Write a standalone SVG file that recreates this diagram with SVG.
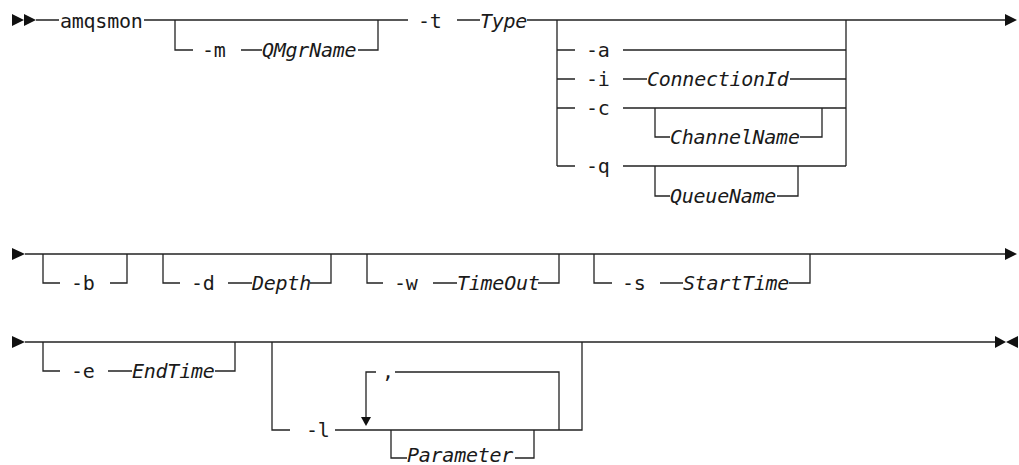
<svg xmlns="http://www.w3.org/2000/svg" width="1019" height="465" viewBox="0 0 1019 465">
<style>
.l{fill:none;stroke:#222;stroke-width:1.3}
.a{fill:#111}
text{font-family:"DejaVu Sans Mono","Liberation Mono",monospace;font-size:20px;letter-spacing:-0.25px;fill:#1a1a1a}
.i{font-style:italic}
</style>
<rect width="1019" height="465" fill="#fff"/>
<g id="connectors">
<!-- row 1 -->
<path class="l" d="M36,20H59M144,20H408M457,20H480M527,20H1005"/>
<path class="l" d="M175,20V50H193M241,50H262M358,50H378V20"/>
<path class="l" d="M557,20V166M846,20V166"/>
<path class="l" d="M557,50H575M623,50H846"/>
<path class="l" d="M557,79H575M623,79H647M790,79H846"/>
<path class="l" d="M557,108H575M623,108H846M655,108V137H670M800,137H822V108"/>
<path class="l" d="M557,166H575M623,166H846M655,166V196H670M777,196H798V166"/>
<polygon class="a" points="12,14 24,20 12,26"/>
<polygon class="a" points="24,14 36,20 24,26"/>
<polygon class="a" points="1005,14 1017,20 1005,26"/>
<!-- row 2 -->
<path class="l" d="M25,254H1005"/>
<path class="l" d="M43,254V283H60M110,283H127V254"/>
<path class="l" d="M163,254V283H180M228,283H252M310,283H331V254"/>
<path class="l" d="M367,254V283H383M433,283H457M538,283H559V254"/>
<path class="l" d="M594,254V283H612M660,283H683M789,283H810V254"/>
<polygon class="a" points="12,248 25,254 12,260"/>
<polygon class="a" points="1005,248 1017,254 1005,260"/>
<!-- row 3 -->
<path class="l" d="M25,342H995"/>
<path class="l" d="M43,342V371H60M108,371H132M215,371H235V342"/>
<path class="l" d="M272,342V430H290M335,430H582V342"/>
<path class="l" d="M366,418V372H376M395,372H559V430"/>
<path class="l" d="M391,430V458H407M515,458H534V430"/>
<polygon class="a" points="12,336 25,342 12,348"/>
<polygon class="a" points="361,417 371,417 366,426"/>
<polygon class="a" points="995,336 1006,342 995,348"/>
<polygon class="a" points="1018,336 1006,342 1018,348"/>
</g>
<g id="amqsmon"><text x="60" y="27.5">amqsmon</text></g>
<g id="opt-m"><text x="202" y="57">-m</text><text class="i" x="262" y="57">QMgrName</text></g>
<g id="opt-t"><text x="418" y="27.5">-t</text><text class="i" x="480" y="27.5">Type</text></g>
<g id="opt-a"><text x="586" y="57">-a</text></g>
<g id="opt-i"><text x="586" y="86">-i</text><text class="i" x="647" y="86">ConnectionId</text></g>
<g id="opt-c"><text x="586" y="115">-c</text><text class="i" x="670" y="144">ChannelName</text></g>
<g id="opt-q"><text x="586" y="173">-q</text><text class="i" x="670" y="203">QueueName</text></g>
<g id="opt-b"><text x="71" y="290">-b</text></g>
<g id="opt-d"><text x="191" y="290">-d</text><text class="i" x="252" y="290">Depth</text></g>
<g id="opt-w"><text x="394" y="290">-w</text><text class="i" x="457" y="290">TimeOut</text></g>
<g id="opt-s"><text x="622" y="290">-s</text><text class="i" x="683" y="290">StartTime</text></g>
<g id="opt-e"><text x="71" y="378">-e</text><text class="i" x="132" y="378">EndTime</text></g>
<g id="opt-l"><text x="306" y="437">-l</text><text x="382" y="378">,</text><text class="i" x="407" y="462">Parameter</text></g>
</svg>
